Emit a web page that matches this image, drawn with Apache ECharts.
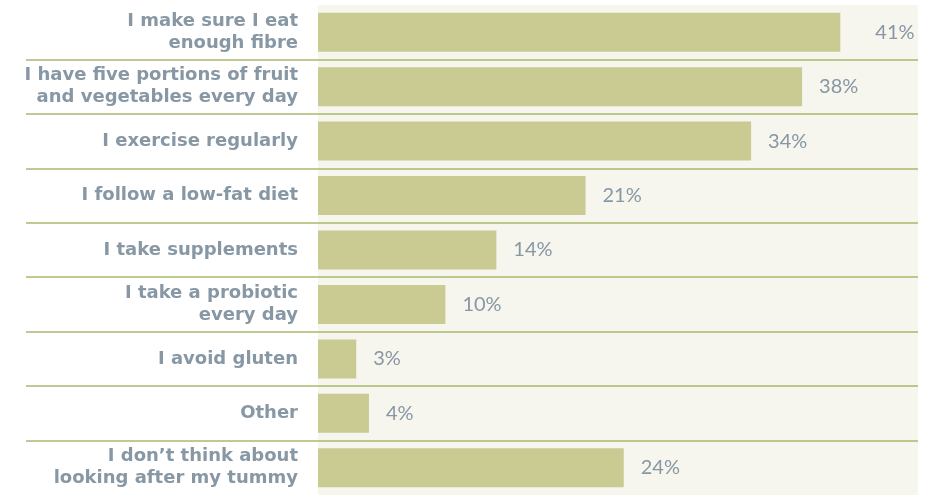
<!DOCTYPE html>
<html>
<head>
<meta charset="utf-8">
<script src="https://cdn.jsdelivr.net/npm/echarts@6/dist/echarts.min.js"></script>
<style>
  html, body { margin: 0; padding: 0; background: #fff; }
  #chart { width: 930px; height: 495px; }
</style>
</head>
<body>
<div id="chart"></div>
<script>
// answers, top to bottom
const categories = [
  'I make sure I eat\nenough fibre',
  'I have five portions of fruit\nand vegetables every day',
  'I exercise regularly',
  'I follow a low-fat diet',
  'I take supplements',
  'I take a probiotic\nevery day',
  'I avoid gluten',
  'Other',
  'I don\u2019t think about\nlooking after my tummy'
]
const values = [41, 38, 34, 21, 14, 10, 3, 4, 24]

const chart = echarts.init(document.getElementById('chart'))

// row separators: no line at the very top or bottom
const sepColors = categories.map((_, i) => (i === 0 ? 'transparent' : '#a8b86a'))
sepColors.push('transparent')

chart.setOption({
  animation: false,
  backgroundColor: '#fff',
  grid: [
    {
      left: 318, right: 12, top: 5, bottom: 0,
      show: true, backgroundColor: '#f6f5ee', borderWidth: 0
    },
    { left: 26, right: 12, top: 5, bottom: 0 }
  ],
  xAxis: [
    { gridIndex: 0, type: 'value', min: 0, max: 47.1, show: false },
    { gridIndex: 1, type: 'value', min: 0, max: 1, show: false }
  ],
  yAxis: [
    {
      gridIndex: 0,
      type: 'category',
      data: categories,
      inverse: true,
      axisLine: { show: false },
      axisTick: { show: false },
      splitLine: { show: false },
      axisLabel: {
        margin: 20,
        align: 'right',
        color: '#8797a4',
        fontFamily: 'DejaVu Sans',
        fontWeight: 'bold',
        fontSize: 18,
        lineHeight: 22
      }
    },
    {
      gridIndex: 1,
      type: 'value',
      min: 0,
      max: categories.length,
      interval: 1,
      inverse: true,
      z: 3,
      axisLine: { show: false },
      axisTick: { show: false },
      axisLabel: { show: false },
      splitLine: { show: true, lineStyle: { color: sepColors, width: 1.5 } }
    }
  ],
  series: [
    {
      type: 'bar',
      xAxisIndex: 0,
      yAxisIndex: 0,
      barWidth: 39,
      itemStyle: { color: '#c9cb93' },
      label: {
        show: true,
        position: 'right',
        distance: 17,
        formatter: '{c}%',
        color: '#8797a4',
        fontFamily: 'Lato',
        fontWeight: 400,
        fontSize: 20
      },
      data: values.map((v, i) =>
        i === 0 ? { value: v, label: { distance: 35 } } : v
      )
    }
  ]
})
</script>
</body>
</html>
